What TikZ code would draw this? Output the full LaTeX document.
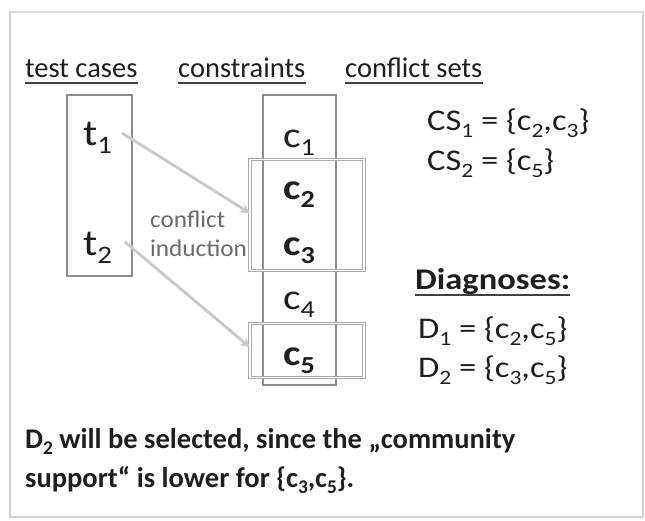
\documentclass[tikz,border=0pt]{standalone}
\usepackage{fontspec}
\setmainfont{Carlito}
\usepackage{graphicx}
\usetikzlibrary{arrows.meta}
\definecolor{ink}{HTML}{1E1E1E}
\definecolor{boxline}{HTML}{8C8C8C}
\definecolor{arrowgray}{HTML}{C8C8C8}
\definecolor{notegray}{HTML}{6A6A6A}
\definecolor{framegray}{HTML}{D2D2D2}
% lowered, smaller index digit
\newcommand\lo[1]{\raisebox{-0.24em}{\scalebox{0.68}{#1}}}
\newcommand\fs[1]{\fontsize{#1}{#1}\selectfont}
% horizontally widened text
\newcommand\hs[2]{\scalebox{#1}[1]{#2}}
\tikzset{
  txt/.style={inner sep=0pt, anchor=base west, text=ink},
  head/.style={txt, font=\fs{28.5}},
  ulinepen/.style={draw=ink!85, line width=1.8pt},
  boxpen/.style={draw=boxline, line width=1.2pt, inner sep=0pt},
  groupbox/.style={draw=boxline!75, double=white, double distance=1.6pt, line width=0.8pt, inner sep=0pt},
  induct/.style={draw=arrowgray, line width=2.8pt, -{Stealth[length=9pt,width=10pt]}},
}
\begin{document}
\begin{tikzpicture}[x=1pt,y=-1pt]
\useasboundingbox (0,0) rectangle (645,520);
% outer frame
\draw[framegray, line width=1.2pt] (10,12) rectangle (643,517);
\draw[framegray!80!black!40, line width=2pt] (10,12) -- (643,12);

% column headers
\node[head] (h1) at (25,77) {test cases};
\node[head] (h2) at (178,77) {constraints};
\node[head] (h3) at (345,77) {conflict sets};
\foreach \h in {h1,h2,h3}
  \draw[ulinepen] ([yshift=-6pt]\h.base west) -- ([yshift=-6pt]\h.base east);

% boxes
\node[boxpen, minimum width=65pt, minimum height=181pt] (tbox) at (99.5,185.5) {};
\node[boxpen, minimum width=73pt, minimum height=290pt] (cbox) at (299.5,240) {};
\node[groupbox, minimum width=114pt, minimum height=111pt] (g1) at (307,215) {};
\node[groupbox, minimum width=114pt, minimum height=54pt] (g2) at (307,350.5) {};

% test cases
\node[txt, font=\fs{37}] (t1) at (83,145) {\hs{1.15}{t\lo{1}}};
\node[txt, font=\fs{37}] (t2) at (83,255) {\hs{1.15}{t\lo{2}}};

% constraints
\node[txt, font=\fs{36}] (c1) at (283,147) {\hs{1.15}{c\lo{1}}};
\node[txt, font=\fs{36}\bfseries] (c2) at (283,199) {\hs{1.15}{c\lo{2}}};
\node[txt, font=\fs{36}\bfseries] (c3) at (283,255) {\hs{1.15}{c\lo{3}}};
\node[txt, font=\fs{36}] (c4) at (283,309) {\hs{1.15}{c\lo{4}}};
\node[txt, font=\fs{36}\bfseries] (c5) at (283,365) {\hs{1.15}{c\lo{5}}};

% conflict induction arrows
\coordinate (a1) at (122,133);
\coordinate (a2) at (125,242);
\coordinate (e1) at (g1.west |- 0,213);
\coordinate (e2) at (g2.west |- 0,347);
\draw[induct] (a1) -- (e1);
\draw[induct] (a2) -- (e2);
\node[txt, font=\fs{24}, text=notegray] (ci1) at (150,227) {\hs{1.05}{conflict}};
\node[txt, font=\fs{24}, text=notegray] (ci2) at (150,256) {\hs{1.05}{induction}};

% conflict sets
\node[txt, font=\fs{30}] (cs1) at (427,130) {\hs{1.15}{CS\lo{1} = \{c\lo{2},c\lo{3}\}}};
\node[txt, font=\fs{30}] (cs2) at (427,170) {\hs{1.15}{CS\lo{2} = \{c\lo{5}\}}};

% diagnoses
\node[txt, font=\fs{30}\bfseries] (dg) at (415,289) {\hs{1.15}{Diagnoses:}};
\draw[ulinepen] ([yshift=-6pt]dg.base west) -- ([yshift=-6pt]dg.base east);
\node[txt, font=\fs{30}] (d1) at (418,338) {\hs{1.15}{D\lo{1} = \{c\lo{2},c\lo{5}\}}};
\node[txt, font=\fs{30}] (d2) at (418,377) {\hs{1.15}{D\lo{2} = \{c\lo{3},c\lo{5}\}}};

% conclusion
\node[txt, font=\fs{28.5}\bfseries] (s1) at (25,448) {D\lo{2} will be selected, since the „community};
\node[txt, font=\fs{28.5}\bfseries] (s2) at (25,487) {support“ is lower for \{c\lo{3},c\lo{5}\}.};
\end{tikzpicture}
\end{document}
